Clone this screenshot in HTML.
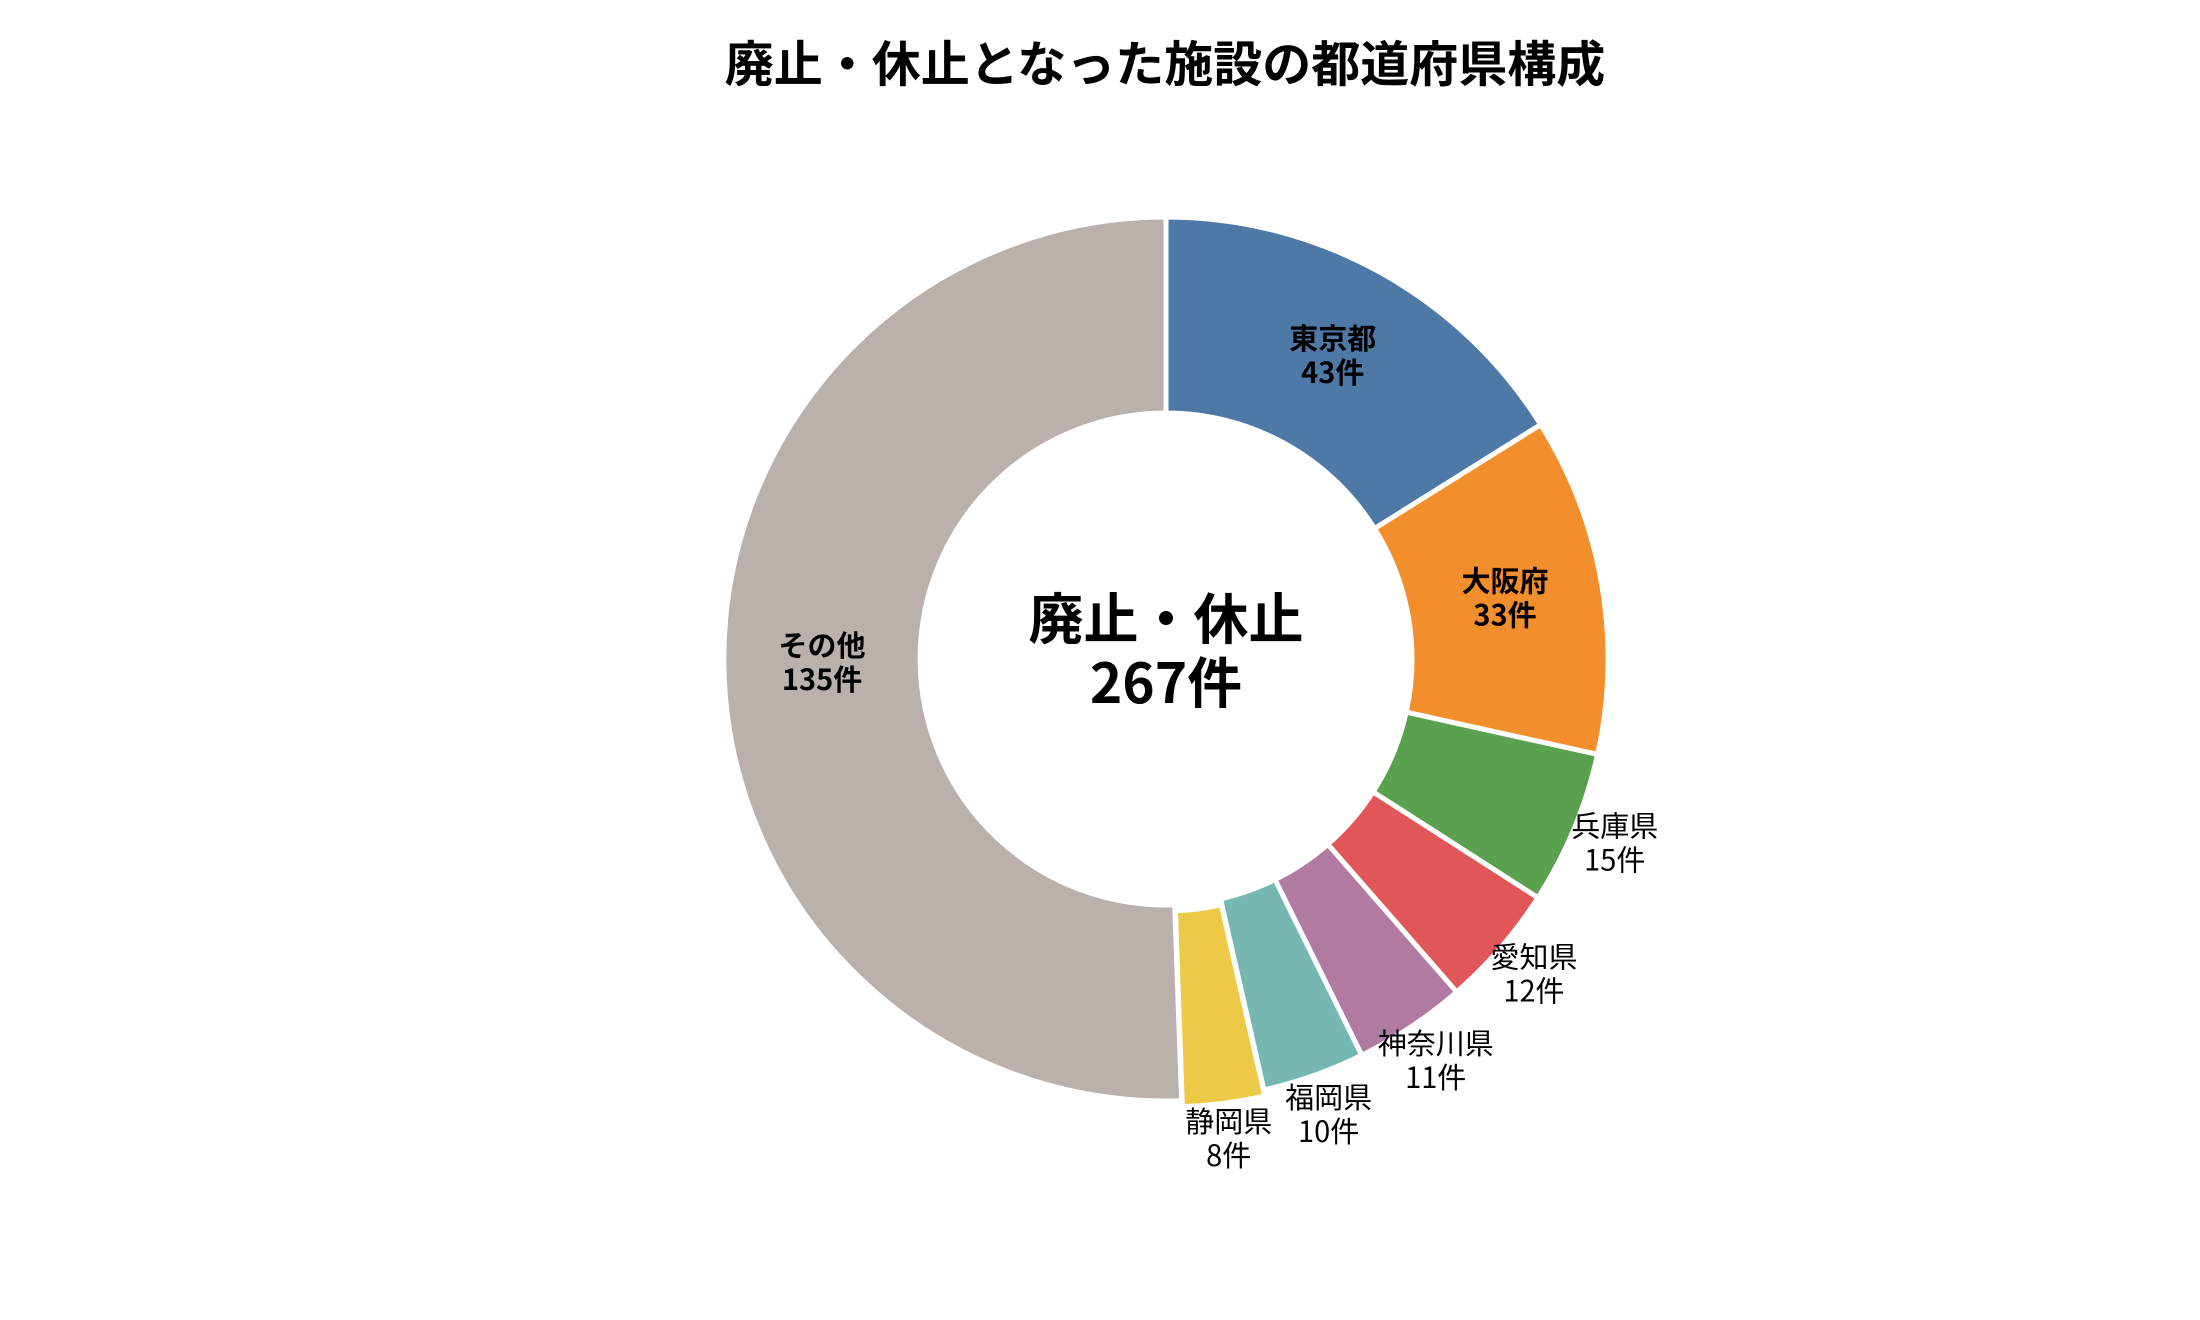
<!DOCTYPE html>
<html><head><meta charset="utf-8"><style>
html,body{margin:0;padding:0;background:#fff;width:2200px;height:1320px;overflow:hidden}
svg{display:block;font-family:"Noto Sans CJK JP","Liberation Sans",sans-serif}
</style></head><body>
<svg id="s" width="2200" height="1320" viewBox="0 0 2200 1320">
<text x="1165" y="68" text-anchor="middle" dominant-baseline="middle" font-size="49" font-weight="bold" fill="#000">廃止・休止となった施設の都道府県構成</text>
<g id="w"></g>
<text x="1166" y="624" text-anchor="middle" dominant-baseline="middle" font-size="55" font-weight="bold">廃止・休止</text>
<text x="1166" y="688" text-anchor="middle" dominant-baseline="middle" font-size="55" font-weight="bold">267件</text>
</svg>
<script>
var d=[["東京都",43,"#4e79a7",0,1],["大阪府",33,"#f28e2b",0,1],["兵庫県",15,"#59a14f",0,0],["愛知県",12,"#e15759",0,0],["神奈川県",11,"#b07aa1",0,0],["福岡県",10,"#76b7b2",0,0],["静岡県",8,"#edc948",6,0],["その他",135,"#bab0ac",0,1]];
var cx=1166,cy=659,R=442,r=246,T=267,a=0,g=document.getElementById('w'),h='';
function P(rad,ang,ox,oy){return [(cx+ox+rad*Math.sin(ang)).toFixed(2),(cy+oy-rad*Math.cos(ang)).toFixed(2)];}
d.forEach(function(s){
 var a0=a/T*2*Math.PI,a1=(a+s[1])/T*2*Math.PI,m=(a0+a1)/2;a+=s[1];
 var ox=s[3]*Math.sin(m),oy=-s[3]*Math.cos(m),L=(a1-a0)>Math.PI?1:0;
 var p1=P(R,a0,ox,oy),p2=P(R,a1,ox,oy),p3=P(r,a1,ox,oy),p4=P(r,a0,ox,oy);
 h+='<path d="M'+p1+' A'+R+' '+R+' 0 '+L+' 1 '+p2+' L'+p3+' A'+r+' '+r+' 0 '+L+' 0 '+p4+'Z" fill="'+s[2]+'" stroke="#fff" stroke-width="5" stroke-linejoin="round"/>';
 var lr=s[4]?344:486,q=P(lr,m,0,0),fw=s[4]?'bold':'normal';
 h+='<text x="'+q[0]+'" y="'+(q[1]-17)+'" text-anchor="middle" dominant-baseline="middle" font-size="29" font-weight="'+fw+'">'+s[0]+'</text>';
 h+='<text x="'+q[0]+'" y="'+(+q[1]+17)+'" text-anchor="middle" dominant-baseline="middle" font-size="29" font-weight="'+fw+'">'+s[1]+'件</text>';
});
g.innerHTML=h;
</script>
</body></html>
